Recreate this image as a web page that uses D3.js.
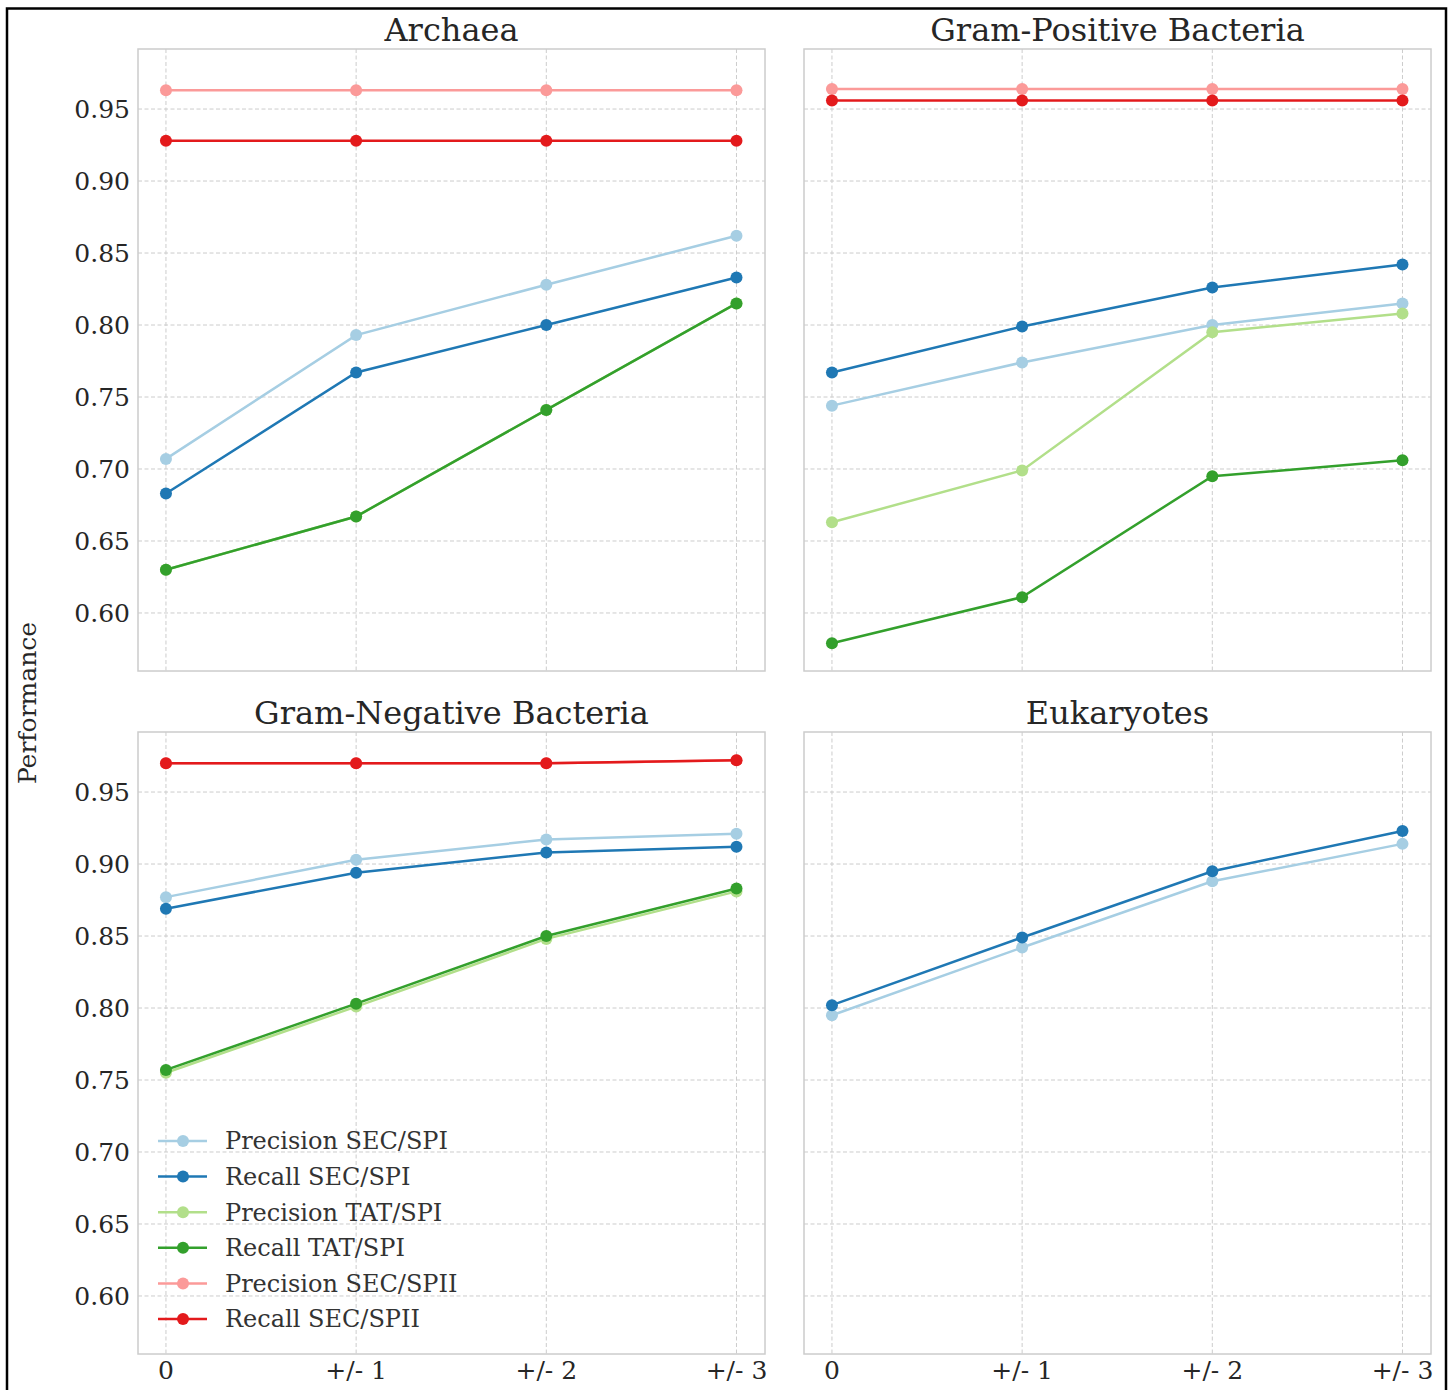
<!DOCTYPE html>
<html>
<head>
<meta charset="utf-8">
<script src="https://cdn.jsdelivr.net/npm/d3@7"></script>
<style>
	body { margin: 0; background: white; }
	text { font-family: 'DejaVu Serif', serif; }
</style>
</head>
<body>
<div id="chart"></div>
<script>
// tick labels and series
let xLabels = ['0', '+/- 1', '+/- 2', '+/- 3'];
let yTicks = [0.60, 0.65, 0.70, 0.75, 0.80, 0.85, 0.90, 0.95];
let panelNames = ['Archaea', 'Gram-Positive Bacteria', 'Gram-Negative Bacteria', 'Eukaryotes'];
let seriesNames = ['Precision SEC/SPI', 'Recall SEC/SPI', 'Precision TAT/SPI', 'Recall TAT/SPI', 'Precision SEC/SPII', 'Recall SEC/SPII'];
let seriesColors = ['#a6cee3', '#1f78b4', '#b2df8a', '#33a02c', '#fb9a99', '#e31a1c'];

// one row per series, in the order of seriesNames (null = not drawn)
let archaea = [
	[0.707, 0.793, 0.828, 0.862],
	[0.683, 0.767, 0.800, 0.833],
	[0.630, 0.667, 0.741, 0.815],
	[0.630, 0.667, 0.741, 0.815],
	[0.963, 0.963, 0.963, 0.963],
	[0.928, 0.928, 0.928, 0.928]
];
let gramPositive = [
	[0.744, 0.774, 0.800, 0.815],
	[0.767, 0.799, 0.826, 0.842],
	[0.663, 0.699, 0.795, 0.808],
	[0.579, 0.611, 0.695, 0.706],
	[0.964, 0.964, 0.964, 0.964],
	[0.956, 0.956, 0.956, 0.956]
];
let gramNegative = [
	[0.877, 0.903, 0.917, 0.921],
	[0.869, 0.894, 0.908, 0.912],
	[0.755, 0.801, 0.848, 0.881],
	[0.757, 0.803, 0.850, 0.883],
	[0.970, 0.970, 0.970, 0.972],
	[0.970, 0.970, 0.970, 0.972]
];
let eukaryotes = [
	[0.795, 0.842, 0.888, 0.914],
	[0.802, 0.849, 0.895, 0.923],
	null,
	null,
	null,
	null
];
let panelData = [archaea, gramPositive, gramNegative, eukaryotes];

let svgWidth = 1454;
let svgHeight = 1390;
let svg = d3.select('#chart').append('svg')
	.attr('width', svgWidth)
	.attr('height', svgHeight);

// outer frame
svg.append('rect')
	.attr('x', 7)
	.attr('y', 8.5)
	.attr('width', 1439)
	.attr('height', 1400)
	.attr('fill', 'none')
	.attr('stroke', 'black')
	.attr('stroke-width', 2.5);

let panelW = 627;
let panelH = 622;
let panelPos = [[138, 49], [804, 49], [138, 732], [804, 732]];

let x = d3.scaleLinear().domain([-0.147, 3.15]).range([0, panelW]);
let y = d3.scaleLinear().domain([0.5597, 0.9917]).range([panelH, 0]);

let line = d3.line()
	.defined(d => d != null)
	.x((d, i) => x(i))
	.y(d => y(d));

panelData.forEach((rows, p) => {
	let g = svg.append('g')
		.attr('transform', `translate(${panelPos[p][0]}, ${panelPos[p][1]})`);

	// grid
	g.selectAll('.hgrid')
		.data(yTicks)
		.enter()
		.append('line')
		.attr('x1', 0)
		.attr('x2', panelW)
		.attr('y1', d => y(d))
		.attr('y2', d => y(d))
		.attr('stroke', '#cccccc')
		.attr('stroke-width', 1)
		.attr('stroke-dasharray', '4,2.5');
	g.selectAll('.vgrid')
		.data(xLabels)
		.enter()
		.append('line')
		.attr('x1', (d, i) => x(i))
		.attr('x2', (d, i) => x(i))
		.attr('y1', 0)
		.attr('y2', panelH)
		.attr('stroke', '#cccccc')
		.attr('stroke-width', 1)
		.attr('stroke-dasharray', '4,2.5');

	g.append('rect')
		.attr('width', panelW)
		.attr('height', panelH)
		.attr('fill', 'none')
		.attr('stroke', '#cccccc')
		.attr('stroke-width', 1.5);

	// title
	g.append('text')
		.attr('x', panelW / 2)
		.attr('y', -8)
		.attr('text-anchor', 'middle')
		.attr('font-size', '32px')
		.attr('fill', '#262626')
		.text(panelNames[p]);

	// y tick labels only on the left column
	if (p % 2 == 0) {
		g.selectAll('.ylab')
			.data(yTicks)
			.enter()
			.append('text')
			.attr('x', -8)
			.attr('y', d => y(d))
			.attr('dy', '0.35em')
			.attr('text-anchor', 'end')
			.attr('font-size', '25px')
			.attr('fill', '#262626')
			.text(d => d.toFixed(2));
	}

	// x tick labels only on the bottom row
	if (p >= 2) {
		g.selectAll('.xlab')
			.data(xLabels)
			.enter()
			.append('text')
			.attr('x', (d, i) => x(i))
			.attr('y', panelH + 25)
			.attr('text-anchor', 'middle')
			.attr('font-size', '25px')
			.attr('fill', '#262626')
			.text(d => d);
	}

	rows.forEach((vals, s) => {
		if (!vals) return;
		g.append('path')
			.datum(vals)
			.attr('d', line)
			.attr('fill', 'none')
			.attr('stroke', seriesColors[s])
			.attr('stroke-width', 2.5);
		g.selectAll('.pt' + s)
			.data(vals)
			.enter()
			.append('circle')
			.attr('cx', (d, i) => x(i))
			.attr('cy', d => y(d))
			.attr('r', 6)
			.attr('fill', seriesColors[s]);
	});
});

// legend in the lower left panel
let legend = svg.selectAll('.legend')
	.data(seriesNames)
	.enter()
	.append('g')
	.attr('class', 'legend')
	.attr('transform', (d, i) => `translate(158, ${1141 + i * 35.6})`);

legend.append('line')
	.attr('x1', 0)
	.attr('x2', 49)
	.attr('stroke', (d, i) => seriesColors[i])
	.attr('stroke-width', 2.5);
legend.append('circle')
	.attr('cx', 25)
	.attr('r', 6)
	.attr('fill', (d, i) => seriesColors[i]);
legend.append('text')
	.attr('x', 67)
	.attr('dy', '0.35em')
	.attr('font-size', '24px')
	.attr('fill', '#333333')
	.text(d => d);

// shared y label
svg.append('text')
	.attr('transform', 'translate(36, 703) rotate(-90)')
	.attr('text-anchor', 'middle')
	.attr('font-size', '25px')
	.attr('fill', '#262626')
	.text('Performance');
</script>
</body>
</html>
